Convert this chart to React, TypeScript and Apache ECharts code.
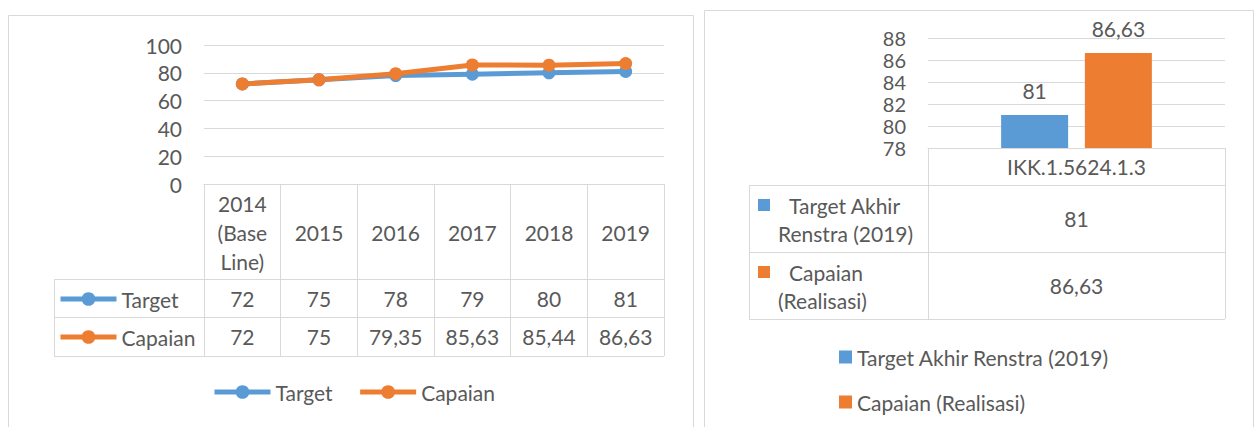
import React, { useEffect, useRef } from "react";
import * as echarts from "echarts";

const categories = ["2014 (Base Line)", "2015", "2016", "2017", "2018", "2019"];
const lineSeriesNames = ["Target", "Capaian"];
const targetValues = [72, 75, 78, 79, 80, 81];
const capaianValues = [72, 75, 79.35, 85.63, 85.44, 86.63];

const barCategories = ["IKK.1.5624.1.3"];
const barSeriesNames = ["Target Akhir Renstra (2019)", "Capaian (Realisasi)"];
const barTargetValues = [81];
const barCapaianValues = [86.63];
const barRowHeaderLines = [
  ["Target Akhir", "Renstra (2019)"],
  ["Capaian", "(Realisasi)"],
];

const BLUE = "#5B9BD5";
const ORANGE = "#ED7D31";
const TEXT = "#595959";
const GRID = "#D9D9D9";
const FONT = "Lato";
const FS = 21;

const fmt = (v: number) => String(v).replace(".", ",");

export default function App() {
  const ref = useRef<HTMLDivElement>(null);

  useEffect(() => {
    if (!ref.current) return;
    const chart = echarts.init(ref.current, null, { renderer: "svg" });

    const labelBase = { fontFamily: FONT, fontSize: FS, color: TEXT };

    const hLine = (x1: number, x2: number, y: number) => ({
      type: "line",
      shape: { x1, y1: y, x2, y2: y },
      style: { stroke: GRID, lineWidth: 1 },
      silent: true,
    });
    const vLine = (x: number, y1: number, y2: number) => ({
      type: "line",
      shape: { x1: x, y1, x2: x, y2 },
      style: { stroke: GRID, lineWidth: 1 },
      silent: true,
    });

    const graphic: any[] = [
      {
        type: "rect",
        shape: { x: 8.5, y: 15.5, width: 685, height: 500 },
        style: { fill: "none", stroke: GRID, lineWidth: 1 },
        silent: true,
      },
      {
        type: "rect",
        shape: { x: 704.5, y: 10.5, width: 549, height: 500 },
        style: { fill: "none", stroke: GRID, lineWidth: 1 },
        silent: true,
      },
      // left table
      hLine(54, 664, 279.5),
      hLine(54, 664, 317.5),
      hLine(54, 664, 356.5),
      vLine(54.5, 279, 357),
      // right table
      hLine(749, 1225, 185.5),
      hLine(749, 1225, 252.5),
      hLine(749, 1225, 319.5),
      vLine(749.5, 185, 320),
    ];

    const rowTops = [199, 266];
    const rowColors = [BLUE, ORANGE];
    barRowHeaderLines.forEach((lines, i) => {
      graphic.push({
        type: "rect",
        shape: { x: 758, y: rowTops[i], width: 12, height: 12 },
        style: { fill: rowColors[i] },
        silent: true,
      });
      graphic.push({
        type: "text",
        x: 789,
        y: rowTops[i] + 6,
        style: { text: lines[0], fill: TEXT, font: `${FS}px ${FONT}`, verticalAlign: "middle" },
        silent: true,
      });
      graphic.push({
        type: "text",
        x: 778,
        y: rowTops[i] + 34,
        style: { text: lines[1], fill: TEXT, font: `${FS}px ${FONT}`, verticalAlign: "middle" },
        silent: true,
      });
    });

    const lineLegendCommon = {
      data: lineSeriesNames,
      padding: 0,
      itemWidth: 56,
      itemHeight: 17,
      selectedMode: false,
      lineStyle: { width: 5 },
      textStyle: { ...labelBase, lineHeight: 22 },
    };

    const option: any = {
      animation: false,
      textStyle: { fontFamily: FONT },
      grid: [
        { left: 204, top: 45, width: 460, height: 139, containLabel: false },
        { left: 928, top: 38, width: 297, height: 110, containLabel: false },
      ],
      xAxis: [
        {
          gridIndex: 0,
          type: "category",
          position: "bottom",
          data: categories,
          boundaryGap: true,
          axisLine: { show: true, lineStyle: { color: GRID, width: 1 } },
          axisTick: { show: true, interval: 0, length: 172, lineStyle: { color: GRID, width: 1 } },
          axisLabel: {
            ...labelBase,
            interval: 0,
            margin: 48,
            verticalAlign: "middle",
            lineHeight: 29,
            formatter: (v: string) => v.split(" ").join("\n"),
          },
        },
        {
          gridIndex: 0,
          type: "category",
          position: "bottom",
          data: categories,
          axisLine: { show: false },
          axisTick: { show: false },
          axisLabel: {
            ...labelBase,
            interval: 0,
            margin: 114,
            verticalAlign: "middle",
            formatter: (_v: string, i: number) => fmt(targetValues[i]),
          },
        },
        {
          gridIndex: 0,
          type: "category",
          position: "bottom",
          data: categories,
          axisLine: { show: false },
          axisTick: { show: false },
          axisLabel: {
            ...labelBase,
            interval: 0,
            margin: 152.5,
            verticalAlign: "middle",
            formatter: (_v: string, i: number) => fmt(capaianValues[i]),
          },
        },
        {
          gridIndex: 1,
          type: "category",
          position: "bottom",
          data: barCategories,
          boundaryGap: true,
          axisLine: { show: true, lineStyle: { color: GRID, width: 1 } },
          axisTick: { show: true, interval: 0, length: 171, lineStyle: { color: GRID, width: 1 } },
          axisLabel: { ...labelBase, interval: 0, margin: 18.5, verticalAlign: "middle" },
        },
        {
          gridIndex: 1,
          type: "category",
          position: "bottom",
          data: barCategories,
          axisLine: { show: false },
          axisTick: { show: false },
          axisLabel: {
            ...labelBase,
            interval: 0,
            margin: 70.5,
            verticalAlign: "middle",
            formatter: (_v: string, i: number) => fmt(barTargetValues[i]),
          },
        },
        {
          gridIndex: 1,
          type: "category",
          position: "bottom",
          data: barCategories,
          axisLine: { show: false },
          axisTick: { show: false },
          axisLabel: {
            ...labelBase,
            interval: 0,
            margin: 137.5,
            verticalAlign: "middle",
            formatter: (_v: string, i: number) => fmt(barCapaianValues[i]),
          },
        },
      ],
      yAxis: [
        {
          gridIndex: 0,
          type: "value",
          min: 0,
          max: 100,
          interval: 20,
          axisLine: { show: false },
          axisTick: { show: false },
          axisLabel: { ...labelBase, margin: 22, lineHeight: 20 },
          splitLine: { show: true, lineStyle: { color: GRID, width: 1 } },
        },
        {
          gridIndex: 1,
          type: "value",
          min: 78,
          max: 88,
          interval: 2,
          axisLine: { show: false },
          axisTick: { show: false },
          axisLabel: { ...labelBase, fontSize: 20, margin: 22, lineHeight: 19 },
          splitLine: { show: true, lineStyle: { color: GRID, width: 1 } },
        },
      ],
      legend: [
        {
          ...lineLegendCommon,
          orient: "vertical",
          left: 58,
          top: 288,
          itemGap: 16,
        },
        {
          ...lineLegendCommon,
          orient: "horizontal",
          left: 212,
          top: 381,
          itemGap: 25,
        },
        {
          data: barSeriesNames,
          orient: "vertical",
          left: 839,
          top: 346,
          padding: 0,
          icon: "rect",
          itemWidth: 13,
          itemHeight: 13,
          itemGap: 23,
          selectedMode: false,
          textStyle: { ...labelBase, lineHeight: 22 },
        },
      ],
      graphic,
      series: [
        {
          name: lineSeriesNames[0],
          type: "line",
          xAxisIndex: 0,
          yAxisIndex: 0,
          data: targetValues,
          color: BLUE,
          symbol: "circle",
          symbolSize: 13,
          lineStyle: { width: 5, color: BLUE },
          itemStyle: { color: BLUE },
        },
        {
          name: lineSeriesNames[1],
          type: "line",
          xAxisIndex: 0,
          yAxisIndex: 0,
          data: capaianValues,
          color: ORANGE,
          symbol: "circle",
          symbolSize: 13,
          lineStyle: { width: 5, color: ORANGE },
          itemStyle: { color: ORANGE },
        },
        {
          name: barSeriesNames[0],
          type: "bar",
          xAxisIndex: 3,
          yAxisIndex: 1,
          data: barTargetValues,
          barWidth: 67,
          barGap: "25%",
          color: BLUE,
          itemStyle: { color: BLUE },
          label: {
            show: true,
            position: "top",
            distance: 14,
            ...labelBase,
            formatter: (p: any) => fmt(p.value),
          },
        },
        {
          name: barSeriesNames[1],
          type: "bar",
          xAxisIndex: 3,
          yAxisIndex: 1,
          data: barCapaianValues,
          barWidth: 67,
          barGap: "25%",
          color: ORANGE,
          itemStyle: { color: ORANGE },
          label: {
            show: true,
            position: "top",
            distance: 14,
            ...labelBase,
            formatter: (p: any) => fmt(p.value),
          },
        },
      ],
    };

    chart.setOption(option);
    return () => chart.dispose();
  }, []);

  return (
    <div
      ref={ref}
      style={{ position: "absolute", left: 0, top: 0, width: 1255, height: 427, background: "#fff" }}
    />
  );
}
